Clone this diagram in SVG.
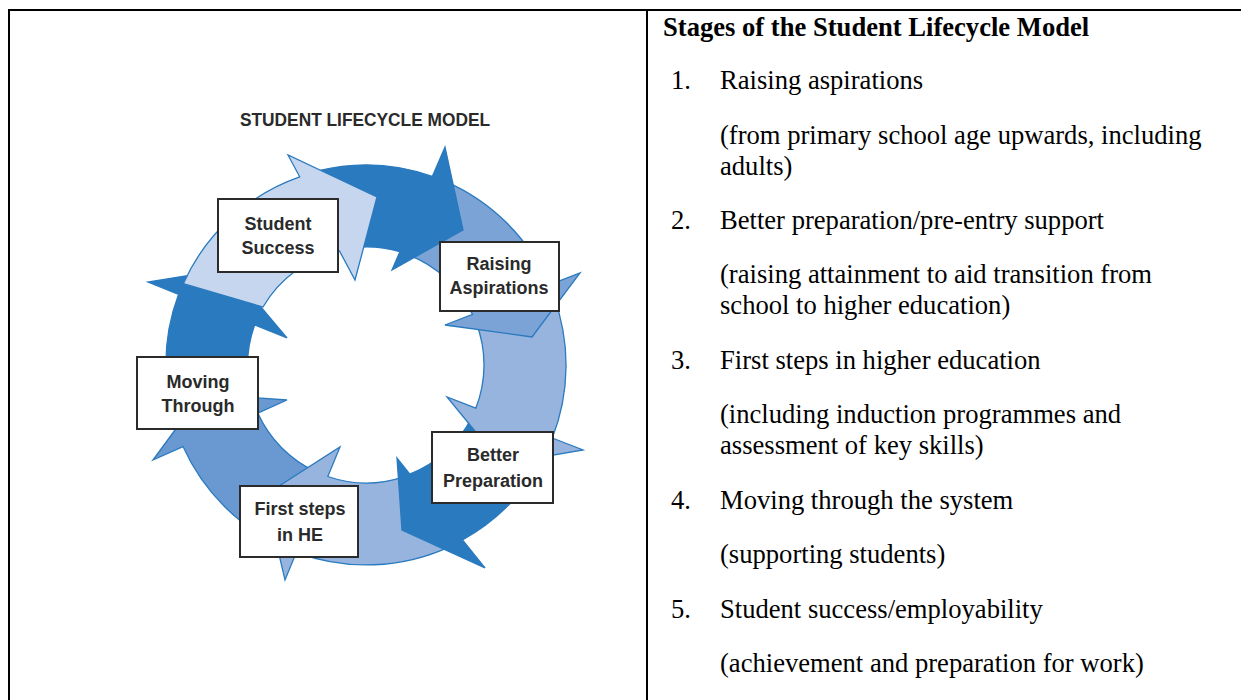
<svg xmlns="http://www.w3.org/2000/svg" width="1241" height="700" viewBox="0 0 1241 700">
<style>
.rule{stroke:#000;stroke-width:2;fill:none}
.ar{stroke:#2a7abf;stroke-width:1.3;stroke-linejoin:miter}
.dk{fill:#2a7abf}
.lt{fill:#c6d6ee}
.md{fill:#7ba3d6}
.lm{fill:#96b4de}
.mf{fill:#6a98d0}
.box{fill:#fff;stroke:#2b2b2b;stroke-width:2}
.lbl{font-family:"Liberation Sans",Arial,sans-serif;font-weight:bold;font-size:18px;fill:#2a2a2a;text-anchor:middle}
.ttl{font-family:"Liberation Sans",Arial,sans-serif;font-weight:bold;font-size:18px;fill:#2a2a2a}
.tx{font-family:"Liberation Serif","Times New Roman",serif;font-size:26.6px;fill:#000}
.hd{font-family:"Liberation Serif","Times New Roman",serif;font-size:26.6px;font-weight:bold;fill:#000}
</style>
<rect x="0" y="0" width="1241" height="700" fill="#fff"/>
<g id="table">
<line class="rule" x1="8" y1="10" x2="1241" y2="10"/>
<line class="rule" x1="9" y1="9" x2="9" y2="700"/>
<line class="rule" x1="647" y1="9" x2="647" y2="700"/>
</g>
<text id="diagram-title" class="ttl" x="240" y="126" textLength="250" lengthAdjust="spacingAndGlyphs">STUDENT LIFECYCLE MODEL</text>
<g id="connectors">
<path class="ar dk" d="M 179.3 436.7 A 200 200 0 0 1 178.6 294.3 L 148 282 L 229 269 L 287 338 L 254.6 325 A 118 118 0 0 0 255.1 405.4 Z"/>
<path class="ar mf" d="M 284.7 547.7 A 200 200 0 0 1 183 446.6 L 153 460 L 201.5 394 L 287 400 L 257.8 413.1 A 118 118 0 0 0 316.1 471.9 Z"/>
<path class="ar lm" d="M 450.5 546.3 A 200 200 0 0 1 296.4 552.3 L 285 580 L 265 495 L 340 447 L 327.8 476.5 A 118 118 0 0 0 404.4 476.6 Z"/>
<path class="ar dk" d="M 547.3 449.5 A 200 200 0 0 1 462.5 539.9 L 485 568 L 402 530 L 397 458 L 409.8 474.1 A 118 118 0 0 0 472.1 416.7 Z"/>
<path class="ar lm" d="M 553.9 296.6 A 200 200 0 0 1 552.3 438 L 583 450 L 502 464 L 447 397 L 475.8 408.2 A 118 118 0 0 0 476.2 322.7 Z"/>
<path class="ar md" d="M 444.1 180.9 A 200 200 0 0 1 549.2 284.9 L 580 273 L 532 337 L 445 325 L 472.5 314.4 A 118 118 0 0 0 408.3 254.8 Z"/>
<path class="ar dk" d="M 317.6 170.9 A 200 200 0 0 1 432.3 176.4 L 445 147 L 463 230 L 392 270 L 399.9 251.7 A 118 118 0 0 0 357.8 247.3 Z"/>
<path class="ar lt" d="M 183.3 283.7 A 200 200 0 0 1 299.7 176.8 L 288 155 L 377 197 L 355 280 L 339.5 251 A 118 118 0 0 0 263 307 Z"/>
</g>
<g id="student-success">
<rect class="box" x="218" y="199" width="120" height="73"/>
<text class="lbl" x="278" y="230">Student</text>
<text class="lbl" x="278" y="254">Success</text>
</g>
<g id="raising-aspirations">
<rect class="box" x="440" y="242" width="119" height="69"/>
<text class="lbl" x="499" y="270">Raising</text>
<text class="lbl" x="499" y="294">Aspirations</text>
</g>
<g id="moving-through">
<rect class="box" x="137" y="357" width="121" height="72"/>
<text class="lbl" x="198" y="388">Moving</text>
<text class="lbl" x="198" y="412">Through</text>
</g>
<g id="better-preparation">
<rect class="box" x="432" y="432" width="121" height="71"/>
<text class="lbl" x="493" y="461">Better</text>
<text class="lbl" x="493" y="487">Preparation</text>
</g>
<g id="first-steps">
<rect class="box" x="240" y="486" width="118" height="71"/>
<text class="lbl" x="300" y="515">First steps</text>
<text class="lbl" x="300" y="541">in HE</text>
</g>
<g id="stages-text">
<text class="hd" x="663" y="36">Stages of the Student Lifecycle Model</text>
<text class="tx" x="671" y="89">1.</text>
<text class="tx" x="720" y="89">Raising aspirations</text>
<text class="tx" x="720" y="144">(from primary school age upwards, including</text>
<text class="tx" x="720" y="175">adults)</text>
<text class="tx" x="671" y="229">2.</text>
<text class="tx" x="720" y="229">Better preparation/pre-entry support</text>
<text class="tx" x="720" y="283">(raising attainment to aid transition from</text>
<text class="tx" x="720" y="314">school to higher education)</text>
<text class="tx" x="671" y="369">3.</text>
<text class="tx" x="720" y="369">First steps in higher education</text>
<text class="tx" x="720" y="423">(including induction programmes and</text>
<text class="tx" x="720" y="454">assessment of key skills)</text>
<text class="tx" x="671" y="509">4.</text>
<text class="tx" x="720" y="509">Moving through the system</text>
<text class="tx" x="720" y="563">(supporting students)</text>
<text class="tx" x="671" y="618">5.</text>
<text class="tx" x="720" y="618">Student success/employability</text>
<text class="tx" x="720" y="672">(achievement and preparation for work)</text>
</g>
</svg>
